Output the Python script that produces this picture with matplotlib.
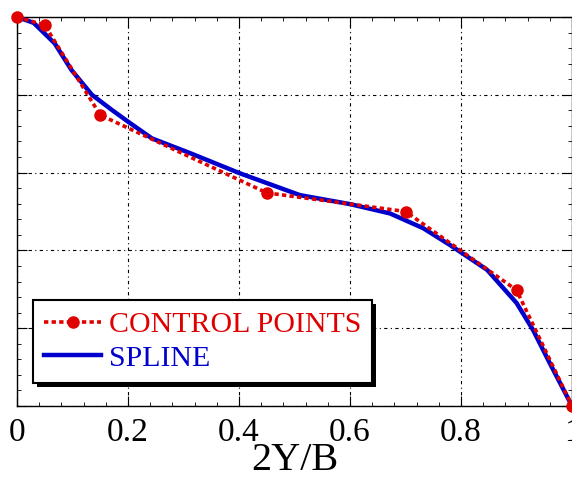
import matplotlib
matplotlib.use("Agg")
import matplotlib.pyplot as plt
from matplotlib.patches import Rectangle
from matplotlib.transforms import IdentityTransform
from matplotlib.ticker import MultipleLocator, AutoMinorLocator

plt.rcParams['font.family'] = ['Liberation Serif', 'DejaVu Serif']

# control points
x_ctrl = [0.0, 0.05, 0.15, 0.45, 0.70, 0.90, 1.0]
y_ctrl = [1.0, 0.979, 0.748, 0.548, 0.50, 0.298, 0.0]

# spline
x_spl = [0.0, 0.03, 0.068, 0.098, 0.135, 0.171, 0.201, 0.243, 0.312, 0.402,
         0.51, 0.60, 0.672, 0.732, 0.78, 0.847, 0.90, 0.93, 0.96, 1.0]
y_spl = [1.0, 0.985, 0.932, 0.864, 0.800, 0.761, 0.730, 0.688, 0.650, 0.598,
         0.542, 0.519, 0.495, 0.457, 0.414, 0.350, 0.265, 0.195, 0.11, 0.0]

xticks = [0, 0.2, 0.4, 0.6, 0.8, 1]
xticklabels = ['0', '0.2', '0.4', '0.6', '0.8', '1']

fig = plt.figure(figsize=(5.72, 4.79), dpi=100)
ax = fig.add_axes([17/572, 73/479, 555/572, 389/479])

ax.plot(x_spl, y_spl, color='#0000CC', linewidth=3.2, clip_on=False,
        solid_joinstyle='round', label='SPLINE', zorder=3)
ax.plot(x_ctrl, y_ctrl, color='#E00000', linewidth=2.6, linestyle=(0, (1.2, 0.9)),
        marker='o', markersize=8, clip_on=False, label='CONTROL POINTS', zorder=4)

ax.set_xlim(0, 1)
ax.set_ylim(0, 1)
ax.set_xticks(xticks)
ax.set_xticklabels(xticklabels)
ax.yaxis.set_major_locator(MultipleLocator(0.2))
ax.set_yticklabels([])
ax.xaxis.set_minor_locator(AutoMinorLocator(5))
ax.yaxis.set_minor_locator(AutoMinorLocator(5))
ax.tick_params(which='both', direction='in', top=True, right=True, labelsize=24, pad=8)
ax.tick_params(which='major', length=7, width=0.8)
ax.tick_params(which='minor', length=3, width=0.6)

ax.grid(True, which='major', color='black', linewidth=0.8, linestyle=(0, (3, 3, 1, 3)))
for s in ax.spines.values():
    s.set_linewidth(1.0)

ax.set_xlabel('2Y/B', fontsize=29, labelpad=-4)

handles, labels = ax.get_legend_handles_labels()
leg = ax.legend(handles[::-1], labels[::-1], loc='lower left',
                bbox_to_anchor=(0.029, 0.059), fontsize=21.5, numpoints=1,
                handlelength=1.9, handletextpad=0.25, labelspacing=0.22,
                borderpad=0.38, borderaxespad=0, fancybox=False,
                framealpha=1, edgecolor='black', labelcolor='linecolor')
leg.get_frame().set_linewidth(1.5)
leg.set_zorder(6)

# hard black drop shadow under the legend box
fig.canvas.draw()
bb = leg.get_window_extent()
ax.add_patch(Rectangle((bb.x0 + 4, bb.y0 - 4), bb.width, bb.height, facecolor='black',
                       edgecolor='none', transform=IdentityTransform(),
                       clip_on=False, zorder=5.9))

fig.savefig('out.png', dpi=100)
